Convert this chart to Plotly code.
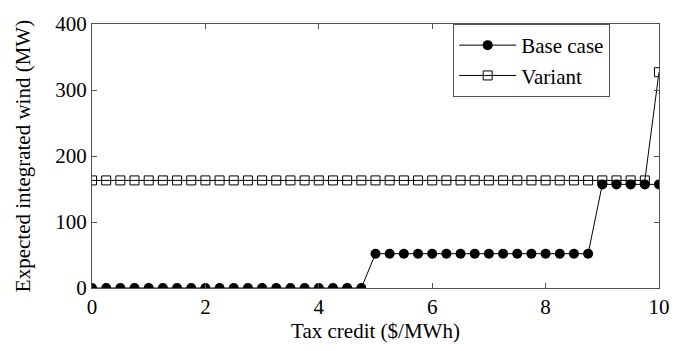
import plotly.graph_objects as go

tax_credit = [i * 0.25 for i in range(41)]
base_case = [0]*20 + [52]*16 + [157]*5
variant = [163]*40 + [327]

font = "Liberation Serif"
fig = go.Figure()
fig.add_trace(go.Scatter(x=tax_credit, y=base_case, mode="lines+markers", name="Base case",
                         line=dict(color="black", width=1),
                         marker=dict(symbol="circle", size=10, color="black")))
fig.add_trace(go.Scatter(x=tax_credit, y=variant, mode="lines+markers", name="Variant",
                         line=dict(color="black", width=1),
                         marker=dict(symbol="square-open", size=9, color="black", line=dict(width=1))))

axis_common = dict(showgrid=False, zeroline=False, showline=True, linecolor="#555", linewidth=1,
                   mirror="ticks", ticks="inside", ticklen=5, tickcolor="#555",
                   tickfont=dict(family=font, size=21, color="black"))
fig.update_xaxes(range=[0, 10], dtick=2,
                 title=dict(text="Tax credit ($/MWh)", font=dict(family=font, size=21, color="black"), standoff=5),
                 **axis_common)
fig.update_yaxes(range=[0, 400], dtick=100,
                 title=dict(text="Expected integrated wind (MW)", font=dict(family=font, size=21, color="black"), standoff=18),
                 **axis_common)

fig.update_layout(width=682, height=351, margin=dict(l=92, r=20, t=14, b=63),
                  plot_bgcolor="white", paper_bgcolor="white",
                  font=dict(family=font, color="black"),
                  legend=dict(x=0.637, y=1.0, xanchor="left", yanchor="top",
                              bordercolor="#555", borderwidth=1, bgcolor="white",
                              font=dict(family=font, size=21, color="black"),
                              itemwidth=57, tracegroupgap=0))
fig.write_html("out.html")
